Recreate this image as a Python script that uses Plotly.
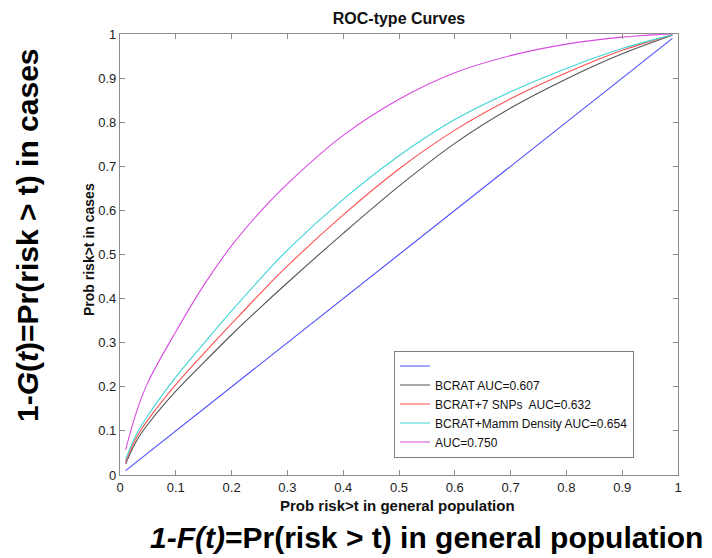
import plotly.graph_objects as go

# ---- data ----
fpr = [0.01, 0.03, 0.05, 0.1, 0.15, 0.2, 0.25, 0.3, 0.4, 0.5, 0.6, 0.7, 0.8, 0.9, 0.99]

diag_x = [0.01, 0.99]
diag_y = [0.01, 0.99]

bcrat_tpr = [0.025, 0.078, 0.115, 0.19, 0.255, 0.318, 0.378, 0.436, 0.548, 0.655, 0.752, 0.832, 0.898, 0.955, 0.997]
snps_tpr = [0.03, 0.086, 0.125, 0.205, 0.275, 0.343, 0.41, 0.474, 0.59, 0.694, 0.782, 0.853, 0.912, 0.963, 0.998]
mamm_tpr = [0.035, 0.094, 0.135, 0.222, 0.298, 0.372, 0.443, 0.51, 0.625, 0.724, 0.806, 0.869, 0.922, 0.967, 0.998]
auc75_tpr = [0.057, 0.145, 0.21, 0.325, 0.43, 0.52, 0.595, 0.66, 0.77, 0.852, 0.912, 0.951, 0.977, 0.993, 1.0]

names = ["", "BCRAT AUC=0.607", "BCRAT+7 SNPs  AUC=0.632",
         "BCRAT+Mamm Density AUC=0.654", "AUC=0.750"]
colors = ["#4a4aff", "#555555", "#ff5050", "#40d4d4", "#d84ce0"]

tick_vals = [0, 0.1, 0.2, 0.3, 0.4, 0.5, 0.6, 0.7, 0.8, 0.9, 1]
tick_text = ["0", "0.1", "0.2", "0.3", "0.4", "0.5", "0.6", "0.7", "0.8", "0.9", "1"]

FONT = "Liberation Sans, Arial, Helvetica, sans-serif"

fig = go.Figure()
series = [(diag_x, diag_y), (fpr, bcrat_tpr), (fpr, snps_tpr), (fpr, mamm_tpr), (fpr, auc75_tpr)]
for (xs, ys), nm, c in zip(series, names, colors):
    fig.add_trace(go.Scatter(x=xs, y=ys, mode="lines", name=nm,
                             line=dict(color=c, width=1.1, shape="spline", smoothing=1.0)))

axis_common = dict(range=[0, 1], tickvals=tick_vals, ticktext=tick_text,
                   showgrid=False, zeroline=False, showline=True,
                   linecolor="#8c8c8c", linewidth=1.2, mirror="ticks",
                   ticks="inside", ticklen=5, tickcolor="#8c8c8c",
                   tickfont=dict(family=FONT, size=13, color="#222222"))

fig.update_layout(
    width=712, height=558,
    margin=dict(l=120, r=34, t=34, b=83),
    paper_bgcolor="white", plot_bgcolor="white",
    font=dict(family=FONT, color="black"),
    title=dict(text="<b>ROC-type Curves</b>", x=0.5, xref="paper",
               y=1 - 18 / 558, yref="container", yanchor="middle",
               font=dict(family=FONT, size=16, color="#111111")),
    xaxis=axis_common,
    yaxis=axis_common,
    legend=dict(x=(394 - 120) / 558, y=(475 - 350.5) / 441, xanchor="left", yanchor="top",
                bgcolor="white", bordercolor="#7f7f7f", borderwidth=1,
                font=dict(family=FONT, size=12, color="#111111"),
                itemwidth=30, tracegroupgap=0),
    showlegend=True,
)

annotations = [
    dict(text="<b>Prob risk>t in general population</b>", xref="paper", yref="paper",
         x=0.498, y=(475 - 505) / 441, showarrow=False, xanchor="center", yanchor="middle",
         font=dict(family=FONT, size=15, color="#111111")),
    dict(text="<b>Prob risk>t in cases</b>", xref="paper", yref="paper",
         x=(89 - 120) / 558, y=(475 - 250) / 441, showarrow=False, textangle=-90,
         xanchor="center", yanchor="middle",
         font=dict(family=FONT, size=14, color="#111111")),
    dict(text="<b><i>1-F(t)</i>=Pr(risk &gt; t) in general population</b>",
         xref="paper", yref="paper",
         x=(426 - 120) / 558, y=(475 - 537) / 441, showarrow=False,
         xanchor="center", yanchor="middle",
         font=dict(family=FONT, size=30, color="black")),
    dict(text="<b>1-<i>G</i>(<i>t</i>)=Pr(risk &gt; t) in cases</b>",
         xref="paper", yref="paper",
         x=(28 - 120) / 558, y=(475 - 235) / 441, showarrow=False, textangle=-90,
         xanchor="center", yanchor="middle",
         font=dict(family=FONT, size=30, color="black")),
]
fig.update_layout(annotations=annotations)

fig.write_html("out.html", config={"displayModeBar": False},
               post_script="document.body.style.margin='0px';document.body.style.overflow='hidden';")
